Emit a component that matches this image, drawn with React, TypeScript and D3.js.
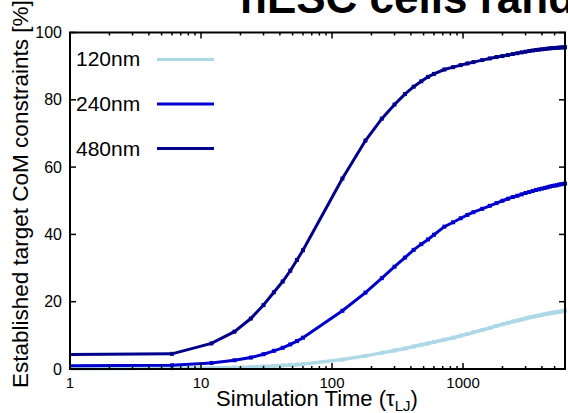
import React from "react";
import * as d3 from "d3";

const times = [1, 6, 12, 18, 24, 30, 36, 42, 48, 54, 60, 120, 180, 240, 300, 360, 420, 480, 540, 600, 720, 840, 960, 1080, 1200, 1400, 1600, 1800, 2000, 2200, 2400, 2600, 2800, 3000, 3200, 3400, 3600, 3800, 4000, 4200, 4400, 4600, 4800, 5000, 5200, 5400, 5600, 5800, 6000];

const v120 = [0.1, 0.2, 0.3, 0.45, 0.6, 0.75, 0.9, 1.05, 1.2, 1.3, 1.45, 2.8, 3.9, 4.8, 5.5, 6.1, 6.7, 7.2, 7.6, 8.0, 8.7, 9.3, 9.9, 10.4, 10.9, 11.6, 12.2, 12.8, 13.3, 13.7, 14.1, 14.4, 14.7, 15.0, 15.3, 15.5, 15.7, 15.9, 16.1, 16.3, 16.4, 16.6, 16.7, 16.8, 16.9, 17.0, 17.1, 17.2, 17.3];
const v240 = [1.0, 1.1, 1.8, 2.6, 3.4, 4.4, 5.4, 6.3, 7.3, 8.3, 9.3, 17.3, 22.7, 27.0, 30.4, 33.1, 35.4, 37.1, 38.5, 39.9, 42.3, 43.6, 44.8, 45.8, 46.6, 47.6, 48.5, 49.3, 50.0, 50.6, 51.1, 51.5, 51.9, 52.3, 52.6, 52.9, 53.2, 53.4, 53.6, 53.8, 54.0, 54.2, 54.4, 54.5, 54.6, 54.8, 54.9, 55.0, 55.1];
const v480 = [4.3, 4.5, 7.6, 11.1, 15.0, 19.0, 22.8, 26.0, 29.2, 32.4, 35.3, 56.6, 67.9, 74.4, 78.6, 81.7, 83.9, 85.5, 86.8, 87.7, 89.0, 89.7, 90.3, 90.8, 91.2, 91.8, 92.3, 92.7, 93.0, 93.3, 93.6, 93.85, 94.1, 94.3, 94.5, 94.65, 94.8, 94.9, 95.0, 95.1, 95.2, 95.3, 95.35, 95.4, 95.45, 95.5, 95.55, 95.6, 95.6];

const seriesNames = ["120nm", "240nm", "480nm"];
const seriesColors = ["#add8e6", "#0000cd", "#00008b"];
const seriesValues = [v120, v240, v480];

const xMajorTicks = [1, 10, 100, 1000];
const yTicks = [0, 20, 40, 60, 80, 100];

const W = 568, H = 413;
const L = 70, R = 565, T = 32.5, B = 369;
const FONT = "'Liberation Sans', Arial, Helvetica, sans-serif";

export default function App() {
  const x = d3.scaleLog().domain([1, 6000]).range([L, R]);
  const y = d3.scaleLinear().domain([0, 100]).range([B, T]);
  const minor: number[] = [];
  for (const d of [1, 10, 100, 1000]) for (let k = 2; k <= 9; k++) if (d * k <= 6000) minor.push(d * k);

  const line = d3.line<[number, number]>().x((d) => x(d[0])).y((d) => y(d[1]));

  return (
    <svg width={W} height={H} style={{ position: "absolute", left: 0, top: 0, background: "#fff" }} fontFamily={FONT}>
      <text x={240} y={13} fontSize={44} fontWeight="bold" fill="#000">hESC cells random</text>
      {/* series */}
      {seriesValues.map((vals, i) => {
        const pts: [number, number][] = times.map((t, j) => [t, vals[j]]);
        return (
          <g key={i}>
            <path d={line(pts) || ""} fill="none" stroke={seriesColors[i]} strokeWidth={i === 0 ? 3.5 : 3} />
            {pts.filter((p) => p[0] >= 6).map((p, j) => (
              <rect key={j} x={x(p[0]) - 2} y={y(p[1]) - 2} width={4} height={4} fill={seriesColors[i]} />
            ))}
          </g>
        );
      })}
      {/* frame */}
      <rect x={L} y={T} width={R - L} height={B - T} fill="none" stroke="#000" strokeWidth={2} />
      {/* x ticks */}
      {xMajorTicks.map((t) => (
        <g key={"xm" + t}>
          <line x1={x(t)} x2={x(t)} y1={B} y2={B - 6} stroke="#000" strokeWidth={1.5} />
          <line x1={x(t)} x2={x(t)} y1={T} y2={T + 6} stroke="#000" strokeWidth={1.5} />
          <text x={x(t)} y={388} fontSize={15} textAnchor="middle">{t}</text>
        </g>
      ))}
      {minor.map((t) => (
        <g key={"xn" + t}>
          <line x1={x(t)} x2={x(t)} y1={B} y2={B - 3} stroke="#000" strokeWidth={1.5} />
          <line x1={x(t)} x2={x(t)} y1={T} y2={T + 3} stroke="#000" strokeWidth={1.5} />
        </g>
      ))}
      {/* y ticks */}
      {yTicks.map((v) => (
        <g key={"y" + v}>
          <line x1={L} x2={L + 6} y1={y(v)} y2={y(v)} stroke="#000" strokeWidth={1.5} />
          <line x1={R} x2={R - 6} y1={y(v)} y2={y(v)} stroke="#000" strokeWidth={1.5} />
          <text x={62} y={y(v) + 5.5} fontSize={16} textAnchor="end">{v}</text>
        </g>
      ))}
      {/* legend */}
      {seriesNames.map((n, i) => (
        <g key={n}>
          <text x={76} y={66 + i * 45} fontSize={21}>{n}</text>
          <line x1={157} x2={214} y1={59.5 + i * 44.5} y2={59.5 + i * 44.5} stroke={seriesColors[i]} strokeWidth={3} />
        </g>
      ))}
      {/* axis titles */}
      <text x={317} y={406} fontSize={22} textAnchor="middle">
        Simulation Time (τ<tspan fontSize={15} dy={5}>LJ</tspan><tspan dy={-5}>)</tspan>
      </text>
      <text transform="translate(28,388) rotate(-90)" fontSize={22.5}>Established target CoM constraints [%]</text>
    </svg>
  );
}
